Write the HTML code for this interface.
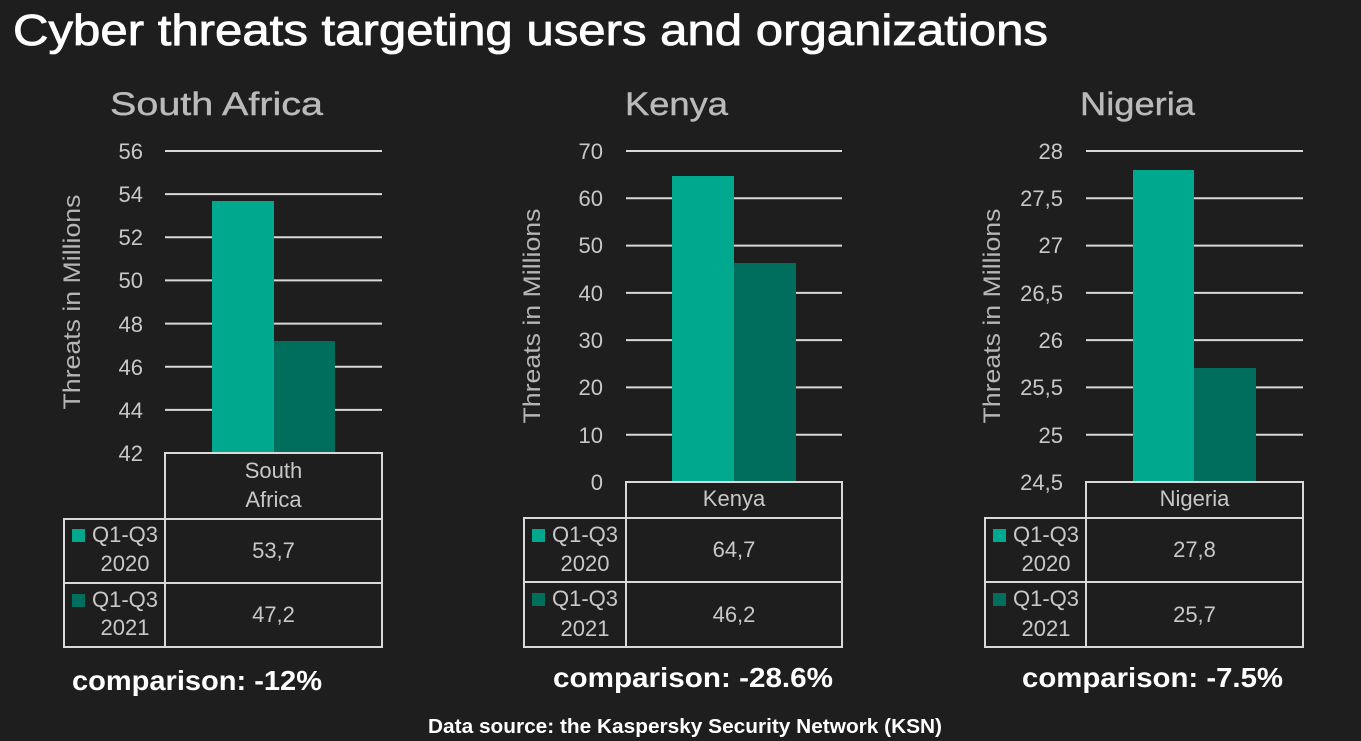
<!DOCTYPE html>
<html><head><meta charset="utf-8"><style>
html,body{margin:0;padding:0;background:#1e1e1e;}
svg{display:block;}
text{font-family:"Liberation Sans",sans-serif;}
</style></head><body>
<svg width="1361" height="741" viewBox="0 0 1361 741" xmlns="http://www.w3.org/2000/svg">
<rect width="1361" height="741" fill="#1e1e1e"/>
<text x="13" y="45" font-size="44" fill="#ffffff" stroke="#ffffff" stroke-width="0.8" textLength="1035" lengthAdjust="spacingAndGlyphs">Cyber threats targeting users and organizations</text>

<!-- Subtitles -->
<text x="110" y="115" font-size="32" fill="#bababa" stroke="#bababa" stroke-width="0.4" textLength="213" lengthAdjust="spacingAndGlyphs">South Africa</text>
<text x="625" y="115" font-size="32" fill="#bababa" stroke="#bababa" stroke-width="0.4" textLength="103" lengthAdjust="spacingAndGlyphs">Kenya</text>
<text x="1080" y="115" font-size="32" fill="#bababa" stroke="#bababa" stroke-width="0.4" textLength="115" lengthAdjust="spacingAndGlyphs">Nigeria</text>

<!-- ===== South Africa ===== -->
<g stroke="#d9d9d9" stroke-width="2">
<line x1="165" y1="151" x2="382" y2="151"/>
<line x1="165" y1="194.1" x2="382" y2="194.1"/>
<line x1="165" y1="237.3" x2="382" y2="237.3"/>
<line x1="165" y1="280.4" x2="382" y2="280.4"/>
<line x1="165" y1="323.6" x2="382" y2="323.6"/>
<line x1="165" y1="366.7" x2="382" y2="366.7"/>
<line x1="165" y1="409.9" x2="382" y2="409.9"/>
</g>
<rect x="212" y="201" width="62" height="252" fill="#00a88e"/>
<rect x="274" y="341" width="61" height="112" fill="#006e5c"/>
<g font-size="22" fill="#c8c8c8" text-anchor="end">
<text x="143" y="159">56</text>
<text x="143" y="202">54</text>
<text x="143" y="245">52</text>
<text x="143" y="288">50</text>
<text x="143" y="332">48</text>
<text x="143" y="375">46</text>
<text x="143" y="418">44</text>
<text x="143" y="461">42</text>
</g>
<text transform="translate(80,302) rotate(-90)" font-size="24" fill="#b5b5b5" text-anchor="middle" textLength="215" lengthAdjust="spacingAndGlyphs">Threats in Millions</text>
<g fill="none" stroke="#d9d9d9" stroke-width="2">
<rect x="165" y="453" width="217" height="66"/>
<rect x="64" y="519" width="318" height="128"/>
<line x1="165" y1="519" x2="165" y2="647"/>
<line x1="64" y1="583" x2="382" y2="583"/>
</g>
<g font-size="22" fill="#c8c8c8" text-anchor="middle">
<text x="273.5" y="478">South</text>
<text x="273.5" y="507">Africa</text>
<text x="273.5" y="558">53,7</text>
<text x="273.5" y="622">47,2</text>
<text x="125" y="542">Q1-Q3</text>
<text x="125" y="571">2020</text>
<text x="125" y="607">Q1-Q3</text>
<text x="125" y="635">2021</text>
</g>
<rect x="72" y="529" width="13" height="13" fill="#00a88e"/>
<rect x="72" y="594" width="13" height="13" fill="#006e5c"/>
<text x="72" y="690" font-size="28" font-weight="bold" fill="#ffffff" textLength="250" lengthAdjust="spacingAndGlyphs">comparison: -12%</text>

<!-- ===== Kenya ===== -->
<g stroke="#d9d9d9" stroke-width="2">
<line x1="626" y1="151" x2="842" y2="151"/>
<line x1="626" y1="198.3" x2="842" y2="198.3"/>
<line x1="626" y1="245.6" x2="842" y2="245.6"/>
<line x1="626" y1="292.9" x2="842" y2="292.9"/>
<line x1="626" y1="340.1" x2="842" y2="340.1"/>
<line x1="626" y1="387.4" x2="842" y2="387.4"/>
<line x1="626" y1="434.7" x2="842" y2="434.7"/>
</g>
<rect x="672" y="176" width="62" height="306" fill="#00a88e"/>
<rect x="734" y="263" width="62" height="219" fill="#006e5c"/>
<g font-size="22" fill="#c8c8c8" text-anchor="end">
<text x="603" y="159">70</text>
<text x="603" y="206">60</text>
<text x="603" y="253">50</text>
<text x="603" y="301">40</text>
<text x="603" y="348">30</text>
<text x="603" y="395">20</text>
<text x="603" y="443">10</text>
<text x="603" y="490">0</text>
</g>
<text transform="translate(540,316) rotate(-90)" font-size="24" fill="#b5b5b5" text-anchor="middle" textLength="215" lengthAdjust="spacingAndGlyphs">Threats in Millions</text>
<g fill="none" stroke="#d9d9d9" stroke-width="2">
<rect x="626" y="482" width="216" height="36"/>
<rect x="524" y="518" width="318" height="129"/>
<line x1="626" y1="518" x2="626" y2="647"/>
<line x1="524" y1="582" x2="842" y2="582"/>
</g>
<g font-size="22" fill="#c8c8c8" text-anchor="middle">
<text x="734" y="506">Kenya</text>
<text x="734" y="557">64,7</text>
<text x="734" y="622">46,2</text>
<text x="585" y="542">Q1-Q3</text>
<text x="585" y="571">2020</text>
<text x="585" y="606">Q1-Q3</text>
<text x="585" y="636">2021</text>
</g>
<rect x="532" y="529" width="13" height="13" fill="#00a88e"/>
<rect x="532" y="593" width="13" height="13" fill="#006e5c"/>
<text x="553" y="687" font-size="28" font-weight="bold" fill="#ffffff" textLength="280" lengthAdjust="spacingAndGlyphs">comparison: -28.6%</text>

<!-- ===== Nigeria ===== -->
<g stroke="#d9d9d9" stroke-width="2">
<line x1="1086" y1="151" x2="1303" y2="151"/>
<line x1="1086" y1="198.3" x2="1303" y2="198.3"/>
<line x1="1086" y1="245.6" x2="1303" y2="245.6"/>
<line x1="1086" y1="292.9" x2="1303" y2="292.9"/>
<line x1="1086" y1="340.1" x2="1303" y2="340.1"/>
<line x1="1086" y1="387.4" x2="1303" y2="387.4"/>
<line x1="1086" y1="434.7" x2="1303" y2="434.7"/>
</g>
<rect x="1133" y="170" width="61" height="312" fill="#00a88e"/>
<rect x="1194" y="368" width="62" height="114" fill="#006e5c"/>
<g font-size="22" fill="#c8c8c8" text-anchor="end">
<text x="1063" y="159">28</text>
<text x="1063" y="206">27,5</text>
<text x="1063" y="253">27</text>
<text x="1063" y="301">26,5</text>
<text x="1063" y="348">26</text>
<text x="1063" y="395">25,5</text>
<text x="1063" y="443">25</text>
<text x="1063" y="490">24,5</text>
</g>
<text transform="translate(1000,316) rotate(-90)" font-size="24" fill="#b5b5b5" text-anchor="middle" textLength="215" lengthAdjust="spacingAndGlyphs">Threats in Millions</text>
<g fill="none" stroke="#d9d9d9" stroke-width="2">
<rect x="1086" y="482" width="217" height="36"/>
<rect x="985" y="518" width="318" height="129"/>
<line x1="1086" y1="518" x2="1086" y2="647"/>
<line x1="985" y1="582" x2="1303" y2="582"/>
</g>
<g font-size="22" fill="#c8c8c8" text-anchor="middle">
<text x="1194.5" y="506">Nigeria</text>
<text x="1194.5" y="557">27,8</text>
<text x="1194.5" y="622">25,7</text>
<text x="1046" y="542">Q1-Q3</text>
<text x="1046" y="571">2020</text>
<text x="1046" y="606">Q1-Q3</text>
<text x="1046" y="636">2021</text>
</g>
<rect x="993" y="529" width="13" height="13" fill="#00a88e"/>
<rect x="993" y="593" width="13" height="13" fill="#006e5c"/>
<text x="1022" y="687" font-size="28" font-weight="bold" fill="#ffffff" textLength="261" lengthAdjust="spacingAndGlyphs">comparison: -7.5%</text>

<text x="428" y="733" font-size="20" font-weight="bold" fill="#ffffff" textLength="514" lengthAdjust="spacingAndGlyphs">Data source: the Kaspersky Security Network (KSN)</text>
</svg>
</body></html>
